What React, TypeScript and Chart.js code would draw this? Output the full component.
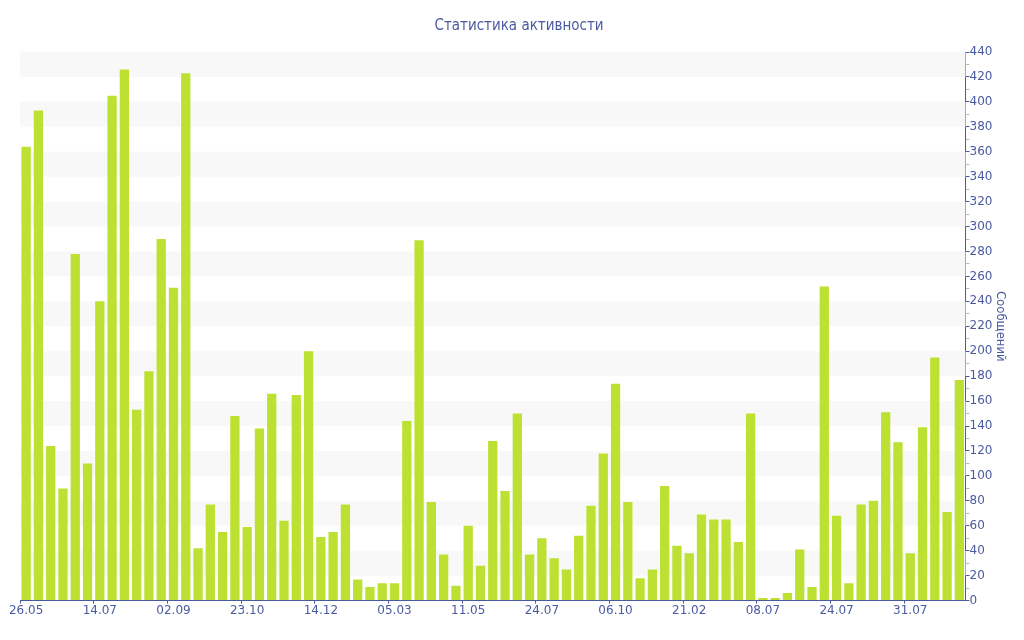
import React, { useEffect, useRef } from "react";
import { Chart, registerables } from "chart.js";

Chart.register(...registerables);

const tickLabels = ["26.05", "14.07", "02.09", "23.10", "14.12", "05.03", "11.05", "24.07", "06.10", "21.02", "08.07", "24.07", "31.07"];
const labelEvery = 6;
const messages = [
  364, 393, 124, 90, 278, 110, 240, 405, 426, 153, 184, 290, 251, 423, 42, 77, 55, 148, 59, 138, 166, 64, 165, 200, 51, 55,
  77, 17, 11, 14, 14, 144, 289, 79, 37, 12, 60, 28, 128, 88, 150, 37, 50, 34, 25, 52, 76, 118, 174, 79, 18, 25, 92,
  44, 38, 69, 65, 65, 47, 150, 2, 2, 6, 41, 11, 252, 68, 14, 77, 80, 151, 127, 38, 139, 195, 71, 177,
];
const categories = messages.map((_, i) => (i % labelEvery === 0 ? tickLabels[i / labelEvery] : ""));
const yMax = 440;
const yStep = 20;

const TEXT = "#4a5aa0";
const FONT = "'DejaVu Sans', Verdana, sans-serif";
const FONT_C = "'DejaVu Sans Condensed', 'DejaVu Sans', sans-serif";

const bandsPlugin = {
  id: "bands",
  beforeDatasetsDraw(chart: any) {
    const { ctx, chartArea, scales } = chart;
    const y = scales.y;
    ctx.save();
    ctx.fillStyle = "#f8f8f8";
    for (let v = yStep; v < yMax; v += yStep * 2) {
      const top = y.getPixelForValue(v + yStep);
      const bottom = y.getPixelForValue(v);
      ctx.fillRect(chartArea.left, top, chartArea.right - chartArea.left, bottom - top);
    }
    ctx.restore();
  },
};

export default function App() {
  const ref = useRef<HTMLCanvasElement | null>(null);
  useEffect(() => {
    if (!ref.current) return;
    const chart = new Chart(ref.current, {
      type: "bar",
      data: {
        labels: categories,
        datasets: [
          {
            label: "Сообщений",
            data: messages,
            backgroundColor: "#bde132",
            borderWidth: 0,
            categoryPercentage: 0.78,
            barPercentage: 0.97,
          },
        ],
      },
      plugins: [bandsPlugin],
      options: {
        animation: false,
        responsive: false,
        maintainAspectRatio: false,
        layout: { padding: { left: 20, right: 6, top: 0, bottom: 22 } },
        plugins: {
          legend: { display: false },
          tooltip: { enabled: false },
          title: {
            display: true,
            text: "Статистика активности",
            color: TEXT,
            font: { family: FONT_C, size: 15, weight: "normal" },
            padding: { top: 17, bottom: 17 },
          },
        },
        scales: {
          x: {
            offset: true,
            grid: {
              display: true,
              drawOnChartArea: false,
              tickLength: 3,
              tickColor: (c: any) => (c.index % labelEvery === 0 ? TEXT : "rgba(0,0,0,0)"),
            },
            border: { display: true, color: TEXT, width: 1 },
            ticks: {
              autoSkip: false,
              maxRotation: 0,
              minRotation: 0,
              color: TEXT,
              padding: 0,
              font: { family: FONT, size: 12 },
            },
          },
          y: {
            position: "right",
            min: 0,
            max: yMax,
            grid: {
              display: true,
              drawOnChartArea: false,
              tickLength: 4,
              tickColor: (c: any) => (c.tick && c.tick.value % yStep === 0 ? TEXT : "#bbbbbb"),
            },
            border: { display: true, color: TEXT, width: 1 },
            ticks: {
              stepSize: yStep / 2,
              autoSkip: false,
              color: TEXT,
              padding: 0,
              font: { family: FONT, size: 12 },
              callback: (v: any) => (Number(v) % yStep === 0 ? String(v) : ""),
            },
            title: {
              display: true,
              text: "Сообщений",
              color: TEXT,
              font: { family: FONT_C, size: 13 },
              padding: { top: 10, bottom: 0 },
            },
          },
        },
      },
    });
    return () => chart.destroy();
  }, []);
  return (
    <div style={{ position: "fixed", left: 0, top: 0, width: 1024, height: 640, background: "#fff" }}>
      <canvas ref={ref} width={1024} height={640} style={{ width: 1024, height: 640 }} />
    </div>
  );
}
